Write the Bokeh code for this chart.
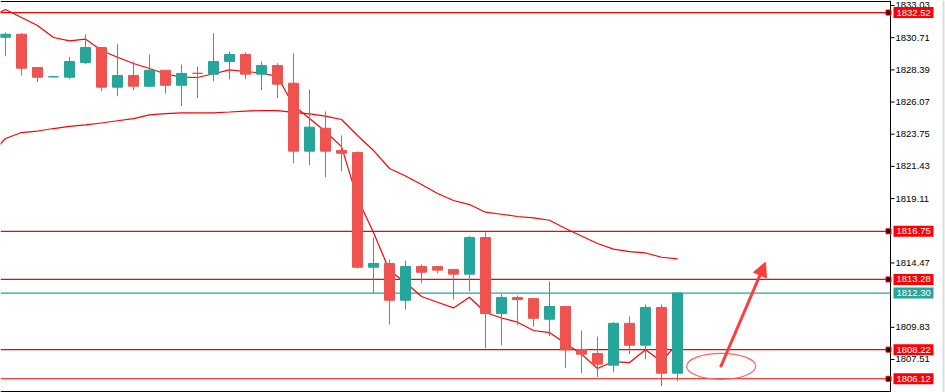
from bokeh.plotting import figure
from bokeh.models import Range1d, Arrow, NormalHead, ColumnDataSource
from bokeh.core.properties import value
from bokeh.embed import file_html
from bokeh.resources import INLINE

# ---- data ----
opens = [1830.74, 1830.96, 1828.56, 1827.88, 1827.86, 1828.92, 1830.00, 1827.14, 1827.98, 1827.21,
         1828.36, 1827.28, 1828.15, 1828.08, 1828.99, 1829.50, 1828.08, 1828.70, 1827.43, 1822.53,
         1824.18, 1822.58, 1822.43, 1814.16, 1814.43, 1811.78, 1814.21, 1814.21, 1814.00, 1813.66,
         1816.30, 1810.82, 1811.98, 1811.90, 1810.41, 1811.33, 1808.23, 1807.94, 1807.10, 1810.12,
         1808.54, 1811.26, 1806.52]
highs = [1831.08, 1831.03, 1828.56, 1827.90, 1829.30, 1830.96, 1830.00, 1830.24, 1828.99, 1829.50,
         1828.36, 1828.78, 1828.63, 1831.03, 1829.71, 1829.66, 1828.99, 1828.87, 1829.59, 1826.97,
         1825.39, 1823.66, 1822.50, 1816.30, 1814.72, 1814.64, 1814.36, 1814.21, 1814.00, 1816.40,
         1816.68, 1812.21, 1812.12, 1811.90, 1813.13, 1811.33, 1809.60, 1809.16, 1810.20, 1810.61,
         1811.47, 1811.47, 1812.34]
lows = [1829.37, 1827.98, 1827.50, 1827.87, 1827.72, 1828.80, 1826.85, 1826.49, 1826.92, 1827.14,
        1826.68, 1825.77, 1826.35, 1827.57, 1827.72, 1827.72, 1826.92, 1826.35, 1821.66, 1821.52,
        1820.65, 1821.08, 1814.07, 1812.26, 1810.03, 1811.11, 1813.01, 1813.73, 1811.83, 1812.43,
        1808.32, 1808.54, 1809.98, 1809.89, 1809.19, 1806.88, 1806.52, 1806.23, 1806.59, 1807.89,
        1807.53, 1805.58, 1805.94]
closes = [1830.96, 1828.51, 1827.86, 1827.90, 1828.99, 1830.00, 1827.14, 1827.98, 1827.21, 1828.36,
          1827.28, 1828.13, 1828.13, 1828.99, 1829.50, 1828.08, 1828.70, 1827.36, 1822.53, 1824.26,
          1822.53, 1822.38, 1814.16, 1814.43, 1811.78, 1814.21, 1813.80, 1813.95, 1813.66, 1816.30,
          1810.82, 1811.98, 1811.83, 1810.48, 1811.33, 1808.21, 1807.89, 1807.17, 1810.12, 1808.54,
          1811.26, 1806.52, 1812.30]

# moving averages, starting one bar before the first visible candle
ma_fast = [1832.16, 1832.74, 1832.16, 1831.59, 1830.72, 1830.48, 1830.61, 1829.79, 1829.30, 1828.85,
           1828.49, 1828.09, 1827.87, 1827.84, 1828.11, 1828.39, 1828.27, 1828.16, 1827.91, 1825.82,
           1824.88, 1823.95, 1822.86, 1819.11, 1816.66, 1813.92, 1813.06, 1812.05, 1811.64, 1811.23,
           1812.00, 1810.90, 1810.50, 1810.20, 1809.60, 1809.45, 1808.66, 1807.90, 1806.86, 1807.36,
           1807.29, 1808.21, 1807.36, 1808.68]
ma_slow = [1822.21, 1823.44, 1823.87, 1823.98, 1824.16, 1824.31, 1824.43, 1824.56, 1824.72, 1824.88,
           1825.14, 1825.24, 1825.29, 1825.29, 1825.29, 1825.35, 1825.42, 1825.46, 1825.45, 1825.32,
           1825.21, 1825.06, 1824.81, 1823.66, 1822.58, 1821.28, 1820.74, 1820.12, 1819.48, 1818.97,
           1818.68, 1818.13, 1817.98, 1817.82, 1817.72, 1817.55, 1816.95, 1816.41, 1815.87, 1815.47,
           1815.29, 1815.19, 1814.88, 1814.77]

level_red = [1832.52, 1816.75, 1813.28, 1808.22, 1806.12]
level_cur = 1812.30

tick_values = [1833.03, 1830.71, 1828.39, 1826.07, 1823.75, 1821.43, 1819.11,
               1814.47, 1809.83, 1807.51]

# hand-drawn annotation positions
arrow_start = (44.69, 1806.95)
arrow_end = (47.5, 1814.52)
ellipse_center = (44.73, 1807.02)

# ---- layout / styles ----
RED_C = "#ef5350"
TEAL_C = "#26a69a"
LINE_RED = "#ff0000"
FONT = value("Liberation Sans")
FONT_SIZE = "9.5px"

X0, X1 = -0.3125, 58.75          # whole canvas, 16 px per bar
Y0, Y1 = 1805.13, 1833.39        # whole canvas height
PXY = (Y1 - Y0) / 392.0          # price per pixel
PXX = 1 / 16.0                   # bars per pixel
AXIS_X = 55.3125                 # price-axis line (x = 890 px)

n = len(opens)
xs = list(range(n))
colors = [TEAL_C if c >= o else RED_C for o, c in zip(opens, closes)]
src = ColumnDataSource(dict(
    x=xs,
    top=[max(o, c) for o, c in zip(opens, closes)],
    bottom=[min(o, c) for o, c in zip(opens, closes)],
    high=highs, low=lows, color=colors))

p = figure(width=945, height=392, output_backend="svg", toolbar_location=None,
           x_range=Range1d(X0, X1), y_range=Range1d(Y0, Y1),
           min_border_left=0, min_border_right=0, min_border_top=0, min_border_bottom=0)
p.axis.visible = False
p.grid.visible = False
p.outline_line_color = None
p.background_fill_color = "white"
p.border_fill_color = "white"

# frame lines (top / bottom) and axis line
p.segment(x0=[X0, X0], x1=[AXIS_X, AXIS_X], y0=[Y1 - 1 * PXY, Y0 + 1 * PXY],
          y1=[Y1 - 1 * PXY, Y0 + 1 * PXY], line_color="black", line_width=1)
p.segment(x0=[AXIS_X], x1=[AXIS_X], y0=[Y0], y1=[Y1], line_color="black", line_width=1)
p.segment(x0=[X1 - 2 * PXX], x1=[X1 - 2 * PXX], y0=[Y0], y1=[Y1],
          line_color="#dcdcdc", line_width=2)

# horizontal levels
p.segment(x0=[X0] * len(level_red), x1=[AXIS_X] * len(level_red), y0=level_red, y1=level_red,
          line_color=LINE_RED, line_width=1.2)
p.segment(x0=[X0], x1=[AXIS_X], y0=[level_cur], y1=[level_cur], line_color=TEAL_C, line_width=1.2)

# moving averages
ma_x = list(range(-1, n))
p.line(ma_x, ma_slow, line_color=LINE_RED, line_width=1.2)
p.line(ma_x, ma_fast, line_color=LINE_RED, line_width=1.2)

# candles
p.segment(x0="x", y0="high", x1="x", y1="low", source=src, line_color="color", line_width=1)
p.vbar(x="x", top="top", bottom="bottom", width=0.625, source=src,
       fill_color="color", line_color="color", line_width=1)

# hand-drawn ellipse and arrow
p.ellipse(x=[ellipse_center[0]], y=[ellipse_center[1]], width=69, height=26,
          width_units="screen", height_units="screen",
          fill_color=None, line_color="#ff6060", line_width=1.2)
p.add_layout(Arrow(x_start=arrow_start[0], y_start=arrow_start[1],
                   x_end=arrow_end[0], y_end=arrow_end[1],
                   line_color="#ff3b3b", line_width=3,
                   end=NormalHead(size=14, fill_color="#ff3b3b", line_color="#ff3b3b")))

# price-axis ticks and labels
p.segment(x0=[AXIS_X] * len(tick_values), x1=[AXIS_X + 4 * PXX] * len(tick_values),
          y0=tick_values, y1=tick_values, line_color="black", line_width=1)
p.text(x=[AXIS_X + 5 * PXX] * len(tick_values), y=tick_values,
       text=[f"{v:.2f}" for v in tick_values], text_font=FONT, text_font_size=FONT_SIZE,
       text_color="black", text_baseline="middle", text_align="left")

# level markers on the axis line
p.scatter([AXIS_X - 2 * PXX] * len(level_red), level_red, marker="square", size=5,
          fill_color="black", line_color=LINE_RED, line_width=1)

# price label boxes
box_x = AXIS_X + 23 * PXX
all_levels = level_red + [level_cur]
box_colors = ["#ff0000"] * len(level_red) + [TEAL_C]
p.rect(x=[box_x] * len(all_levels), y=all_levels, width=40, height=11,
       width_units="screen", height_units="screen", fill_color=box_colors, line_color=None)
p.text(x=[AXIS_X + 6 * PXX] * len(all_levels), y=all_levels,
       text=[f"{v:.2f}" for v in all_levels], text_font=FONT, text_font_size=FONT_SIZE,
       text_color="white", text_baseline="middle", text_align="left")

open("out.html", "w").write(file_html(p, INLINE))
